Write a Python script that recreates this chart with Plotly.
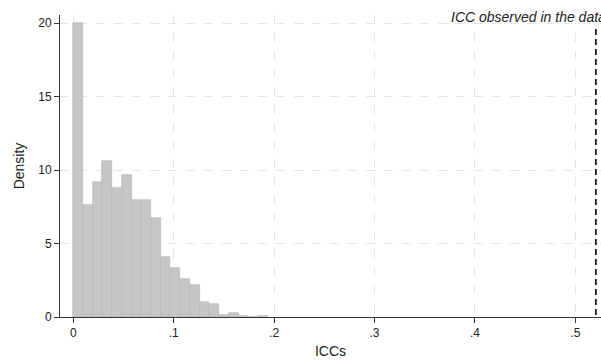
import plotly.graph_objects as go

# Histogram of simulated ICCs (density)
bin_start = 0.0
bin_width = 0.00968
densities = [20.0, 7.61, 9.2, 10.59, 8.8, 9.66, 7.93, 7.93, 6.77, 4.11,
             3.36, 2.62, 2.21, 1.0, 0.91, 0.16, 0.27, 0.05, 0.0, 0.07]
icc_observed = 0.5205
label_text = "ICC observed in the data"
x_ticks = [0, 0.1, 0.2, 0.3, 0.4, 0.5]
x_ticklabels = ["0", ".1", ".2", ".3", ".4", ".5"]
y_ticks = [0, 5, 10, 15, 20]

bin_centers = [bin_start + (i + 0.5) * bin_width for i in range(len(densities))]

fig = go.Figure()
fig.add_trace(go.Bar(
    x=bin_centers, y=densities, width=bin_width,
    marker=dict(color="#c6c6c6", line=dict(color="#b4b4b4", width=0.6)),
    showlegend=False, hoverinfo="skip",
))
fig.add_trace(go.Scatter(
    x=[icc_observed, icc_observed], y=[19.6, 0], mode="lines",
    line=dict(color="black", width=1.6, dash="6px,4px"),
    showlegend=False, hoverinfo="skip",
))
fig.add_annotation(
    x=0.3742, y=20.43, xref="x", yref="y", text="<i>" + label_text + "</i>",
    showarrow=False, xanchor="left", yanchor="middle",
    font=dict(family="Liberation Sans, Arial", size=14, color="#222"),
)

tick_font = dict(family="Liberation Sans, Arial", size=12, color="#222")
title_font = dict(family="Liberation Sans, Arial", size=14, color="#222")
fig.update_layout(
    width=601, height=360,
    margin=dict(l=60, r=0, t=15, b=43),
    paper_bgcolor="white", plot_bgcolor="white",
    bargap=0,
    font=tick_font,
    xaxis=dict(
        range=[-0.01325, 0.5256], tickvals=x_ticks, ticktext=x_ticklabels,
        showline=True, linecolor="#333", linewidth=1,
        ticks="outside", ticklen=5, tickcolor="#333",
        showgrid=True, gridcolor="#e6e6e6", griddash="dash", gridwidth=1,
        zeroline=False, tickfont=tick_font,
        title=dict(text="ICCs", font=title_font, standoff=6),
    ),
    yaxis=dict(
        range=[0, 20.55], tickvals=y_ticks,
        showline=True, linecolor="#333", linewidth=1,
        ticks="outside", ticklen=5, tickcolor="#333",
        showgrid=True, gridcolor="#e6e6e6", griddash="dash", gridwidth=1,
        zeroline=False, tickfont=tick_font,
        title=dict(text="Density", font=title_font, standoff=10),
    ),
)
fig.write_html("out.html")
